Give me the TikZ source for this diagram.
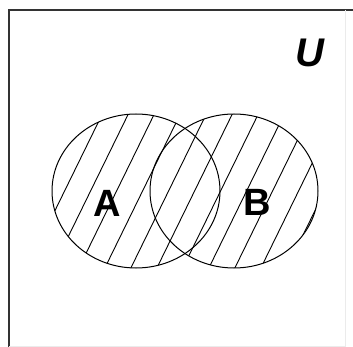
\documentclass[tikz,border=0pt]{standalone}
\usepackage{fontspec}
\setmainfont{Liberation Sans}
\begin{document}
\begin{tikzpicture}[x=1pt,y=-1pt,
  setline/.style={line width=1pt,black},
  hatchline/.style={line width=0.9pt,black},
  setlabel/.style={inner sep=0pt,font=\fontsize{38}{38}\selectfont\bfseries},
  unilabel/.style={inner sep=0pt,font=\fontsize{40}{40}\selectfont\bfseries\itshape}]
\useasboundingbox (0,0) rectangle (353,347);
% frame
\draw[line width=2pt,black!80] (9,347) -- (9,10) -- (353,10);
\draw[line width=0.6pt,black!8] (345,10) -- (345,346) -- (9,346);
% hatching clipped to union
\begin{scope}
  \clip (136,191) ellipse [x radius=84pt, y radius=77pt]
        (234,191) ellipse [x radius=84pt, y radius=77pt];
  \foreach \k in {-7,...,9}{
    \draw[hatchline] ({70+26*\k-0.49*200},{233+200}) -- ({70+26*\k+0.49*200},{233-200});
  }
\end{scope}
% circles
\draw[setline] (136,191) ellipse [x radius=84pt, y radius=77pt];
\draw[setline] (234,191) ellipse [x radius=84pt, y radius=77pt];
% labels
\node[setlabel] (a) at (107,203) {A};
\node[setlabel] (b) at (257,202) {B};
\node[unilabel] (u) at (310,53) {U};
\end{tikzpicture}
\end{document}
